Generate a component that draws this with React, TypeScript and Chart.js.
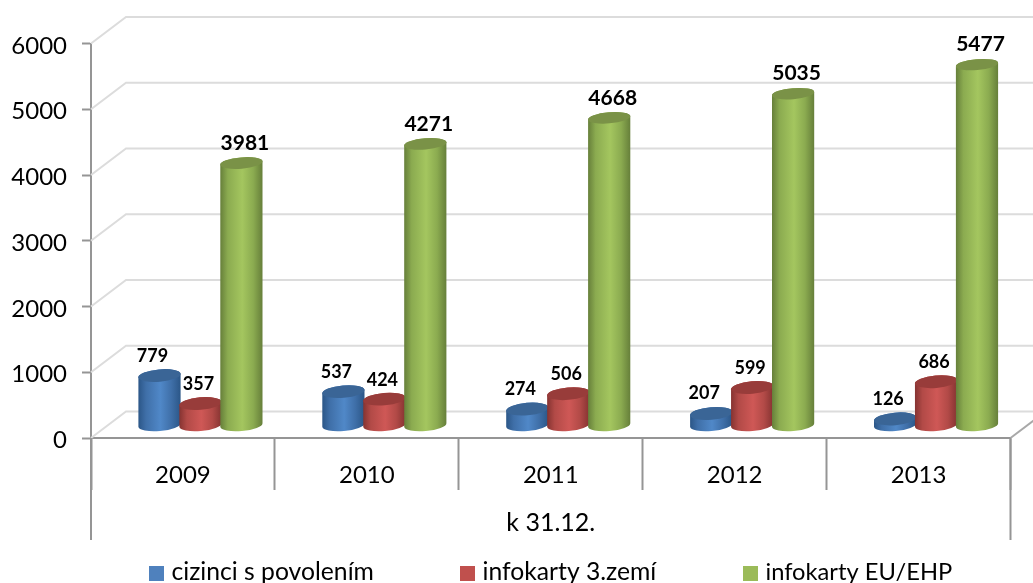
import React, { useEffect, useRef } from "react";
import { Chart, registerables } from "chart.js";

Chart.register(...registerables);

const categories = ["2009", "2010", "2011", "2012", "2013"];
const permitHolders = [779, 537, 274, 207, 126];
const cards3rd = [357, 424, 506, 599, 686];
const cardsEu = [3981, 4271, 4668, 5035, 5477];
const seriesNames = ["cizinci s povolením", "infokarty 3.zemí", "infokarty EU/EHP"];
const axisTitle = "k 31.12.";

const FONT = "Lato, Carlito, Calibri, sans-serif";
const AXIS = "#959595";
const WALL = "#dcdcdc";
const DX = 35;
const DY = 26.5;

const palette = [
  { dark: "#2b5687", mid: "#3f6fa8", light: "#5088c8", top: "#3a6596", swatch: "#4f81bd" },
  { dark: "#853331", mid: "#b24a47", light: "#cf5856", top: "#983c3a", swatch: "#c0504d" },
  { dark: "#667f3a", mid: "#8bab50", light: "#a4c65f", top: "#7a9247", swatch: "#9bbb59" },
];
const labelStyle = [
  { size: 18, dx: -7, dy: -17.5 },
  { size: 18, dx: -2, dy: -17 },
  { size: 21, dx: 3.5, dy: -20 },
];
const legendX = [149, 460, 743];
const legendSize = [24.7, 24.7, 23.7];

const cylinderPlugin = {
  id: "cylinders",
  beforeDraw(chart: any) {
    for (const item of chart.scales.y.getLabelItems()) {
      if (!item.shifted) {
        item.options.translation[1] += 2.5;
        item.shifted = true;
      }
    }
  },
  beforeDatasetsDraw(chart: any) {
    const { ctx, chartArea: a, scales } = chart;
    ctx.save();
    ctx.strokeStyle = WALL;
    ctx.lineWidth = 2;
    for (const t of scales.y.ticks) {
      const y = scales.y.getPixelForValue(t.value);
      ctx.beginPath();
      ctx.moveTo(a.left, y);
      ctx.lineTo(a.left + DX, y - DY);
      ctx.lineTo(a.right + DX, y - DY);
      ctx.stroke();
    }
    ctx.strokeStyle = "#a8a8a8";
    ctx.beginPath();
    ctx.moveTo(a.right, a.bottom);
    ctx.lineTo(a.right + DX, a.bottom - DY);
    ctx.stroke();
    ctx.strokeStyle = AXIS;
    ctx.beginPath();
    ctx.moveTo(a.left, a.bottom);
    ctx.lineTo(a.left, 540);
    ctx.moveTo(a.right, a.bottom);
    ctx.lineTo(a.right, 540);
    ctx.stroke();
    ctx.restore();
  },
  beforeDatasetDraw() {
    return false;
  },
  afterDatasetsDraw(chart: any) {
    const { ctx } = chart;
    const rot = -0.085;
    chart.data.datasets.forEach((ds: any, i: number) => {
      const p = palette[i];
      chart.getDatasetMeta(i).data.forEach((el: any, j: number) => {
        const v = ds.data[j];
        const cx = el.x + DX / 2;
        const rx = el.width / 2 + 0.7;
        const yTop = el.y - DY / 2 + 2.5 * (1 - Math.min(1, v / 4000));
        const yBase = el.base - DY / 2 + 0.7;
        const ryTop = 6.3 - v / 6000;
        const g = ctx.createLinearGradient(cx - rx, 0, cx + rx, 0);
        g.addColorStop(0, p.dark);
        g.addColorStop(0.18, p.mid);
        g.addColorStop(0.52, p.light);
        g.addColorStop(0.78, p.mid);
        g.addColorStop(1, p.dark);
        ctx.save();
        ctx.beginPath();
        ctx.ellipse(cx, yBase, rx, 6, rot, 0, Math.PI);
        ctx.ellipse(cx, yTop, rx, ryTop, rot, Math.PI, 0, false);
        ctx.closePath();
        ctx.fillStyle = g;
        ctx.fill();
        ctx.beginPath();
        ctx.ellipse(cx, yTop, rx, ryTop, rot, 0, Math.PI * 2);
        ctx.fillStyle = p.top;
        ctx.fill();
        ctx.restore();
      });
    });
    chart.data.datasets.forEach((ds: any, i: number) => {
      const s = labelStyle[i];
      chart.getDatasetMeta(i).data.forEach((el: any, j: number) => {
        ctx.save();
        ctx.font = `bold ${s.size}px ${FONT}`;
        ctx.fillStyle = "#000";
        ctx.textAlign = "center";
        ctx.textBaseline = "middle";
        ctx.fillText(String(ds.data[j]), el.x + DX / 2 + s.dx, el.y - DY / 2 + s.dy);
        ctx.restore();
      });
    });
    chart.data.datasets.forEach((ds: any, i: number) => {
      ctx.save();
      ctx.fillStyle = palette[i].swatch;
      ctx.fillRect(legendX[i], 566, 15, 15);
      ctx.fillStyle = "#000";
      ctx.font = `${legendSize[i]}px ${FONT}`;
      ctx.textAlign = "left";
      ctx.textBaseline = "middle";
      ctx.fillText(ds.label, legendX[i] + 22.5, 572);
      ctx.restore();
    });
  },
};

export default function App() {
  const ref = useRef<HTMLCanvasElement>(null);
  useEffect(() => {
    const chart = new Chart(ref.current as HTMLCanvasElement, {
      type: "bar",
      data: {
        labels: categories,
        datasets: [permitHolders, cards3rd, cardsEu].map((data, i) => ({
          label: seriesNames[i],
          data,
          backgroundColor: palette[i].swatch,
          categoryPercentage: 0.668,
          barPercentage: 1,
        })),
      },
      options: {
        responsive: false,
        animation: false,
        layout: { padding: { top: 43.5, right: 22.5, left: 0, bottom: 0 } },
        plugins: { legend: { display: false }, tooltip: { enabled: false } },
        scales: {
          x: {
            afterFit: (s: any) => {
              s.height = 145;
            },
            border: { color: AXIS, width: 2 },
            grid: { offset: true, drawOnChartArea: false, tickLength: 52, color: AXIS, tickColor: AXIS, tickWidth: 2 },
            ticks: { color: "#000", font: { family: FONT, size: 24 }, padding: -29, maxRotation: 0, minRotation: 0 },
            title: {
              display: true,
              text: axisTitle,
              color: "#000",
              font: { family: FONT, size: 25 },
              padding: { top: 0, bottom: 45 },
            },
          },
          y: {
            min: 0,
            max: 6000,
            afterFit: (s: any) => {
              s.width = 91;
            },
            border: { color: AXIS, width: 2 },
            grid: { drawOnChartArea: false, tickLength: 9, tickColor: AXIS, tickWidth: 2 },
            ticks: {
              stepSize: 1000,
              color: "#000",
              font: { family: FONT, size: 24 },
              padding: 15,
              callback: (v: any) => String(v),
            },
          },
        },
      },
      plugins: [cylinderPlugin],
    } as any);
    return () => chart.destroy();
  }, []);
  return (
    <div style={{ position: "absolute", left: 0, top: 0, width: 1033, height: 583, overflow: "hidden", background: "#fff" }}>
      <canvas ref={ref} width={1033} height={583} style={{ display: "block" }} />
    </div>
  );
}
